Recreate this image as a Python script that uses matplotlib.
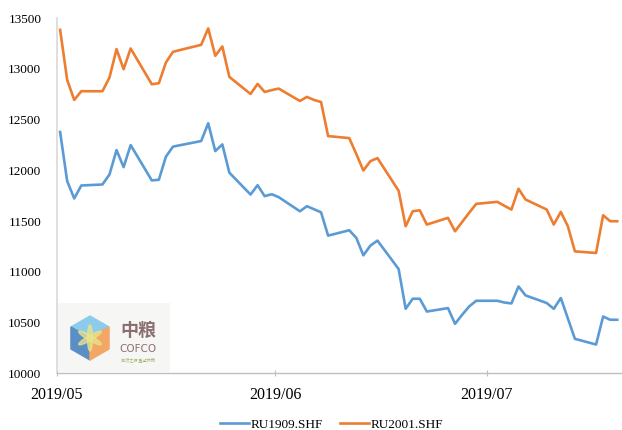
import matplotlib
matplotlib.use("Agg")
import matplotlib.pyplot as plt
import matplotlib.dates as mdates
from matplotlib.patches import Polygon, Rectangle, Ellipse
import pandas as pd

# trading dates and settlement prices
dates = [
    "2019-05-01", "2019-05-02", "2019-05-03", "2019-05-04", "2019-05-07", "2019-05-08",
    "2019-05-09", "2019-05-10", "2019-05-11", "2019-05-14", "2019-05-15", "2019-05-16",
    "2019-05-17", "2019-05-18", "2019-05-21", "2019-05-22", "2019-05-23", "2019-05-24",
    "2019-05-25", "2019-05-28", "2019-05-29", "2019-05-30", "2019-05-31", "2019-06-01",
    "2019-06-04", "2019-06-05", "2019-06-06", "2019-06-07", "2019-06-08", "2019-06-11",
    "2019-06-12", "2019-06-13", "2019-06-14", "2019-06-15", "2019-06-18", "2019-06-19",
    "2019-06-20", "2019-06-21", "2019-06-22", "2019-06-25", "2019-06-26", "2019-06-27",
    "2019-06-28", "2019-06-29", "2019-07-02", "2019-07-03", "2019-07-04", "2019-07-05",
    "2019-07-06", "2019-07-09", "2019-07-10", "2019-07-11", "2019-07-12", "2019-07-13",
    "2019-07-16", "2019-07-17", "2019-07-18", "2019-07-19",
]
ru1909 = [
    12377, 11893, 11722, 11850, 11860, 11959, 12199, 12031, 12248, 11900, 11907, 12134,
    12233, 12247, 12288, 12463, 12189, 12255, 11976, 11761, 11853, 11745, 11764, 11735,
    11596, 11646, 11616, 11586, 11356, 11409, 11334, 11162, 11258, 11307, 11027, 10635,
    10734, 10734, 10608, 10642, 10487, 10575, 10658, 10714, 10714, 10697, 10688, 10855,
    10767, 10692, 10635, 10741, 10540, 10339, 10283, 10559, 10527, 10527,
]
ru2001 = [
    13384, 12890, 12693, 12779, 12779, 12914, 13194, 12996, 13200, 12848, 12858, 13062,
    13167, 13185, 13236, 13398, 13128, 13220, 12920, 12752, 12851, 12772, 12790, 12805,
    12683, 12723, 12693, 12673, 12337, 12317, 12160, 11998, 12090, 12120, 11798, 11448,
    11596, 11606, 11465, 11531, 11399, 11490, 11581, 11669, 11689, 11650, 11613, 11818,
    11712, 11613, 11465, 11590, 11448, 11201, 11185, 11557, 11498, 11498,
]
labels = ["RU1909.SHF", "RU2001.SHF"]
colors = ["#5B9BD5", "#ED7D31"]

# points sit in the middle of each day on the date axis
x = pd.to_datetime(dates) + pd.Timedelta(hours=12)

fig = plt.figure(figsize=(6.22, 4.30), dpi=100)
ax = fig.add_axes([0.091, 0.132, 0.907, 0.826])

ax.plot(x, ru1909, color=colors[0], lw=1.9, label=labels[0])
ax.plot(x, ru2001, color=colors[1], lw=1.9, label=labels[1])

ax.set_ylim(10000, 13500)
ax.set_yticks(range(10000, 13501, 500))
ax.set_xlim(pd.Timestamp("2019-05-01"), pd.Timestamp("2019-07-20"))
ax.xaxis.set_major_locator(mdates.MonthLocator())
ax.xaxis.set_major_formatter(mdates.DateFormatter("%Y/%m"))

for s in ["top", "right"]:
    ax.spines[s].set_visible(False)
ax.spines["left"].set_color("#d9d9d9")
ax.spines["left"].set_linewidth(1.2)
ax.spines["bottom"].set_color("#bfbfbf")
ax.spines["bottom"].set_linewidth(1.0)

ax.tick_params(axis="y", length=0, pad=11, labelsize=9.5, labelfontfamily="Liberation Serif")
ax.tick_params(axis="x", direction="inout", length=4, color="#bfbfbf", pad=8,
               labelsize=11.5, labelfontfamily="Liberation Serif")

fig.legend(loc="lower center", ncol=2, frameon=False, bbox_to_anchor=(0.533, -0.03),
           prop={"family": "Liberation Serif", "size": 9.5}, handlelength=2.2,
           handletextpad=0.1, columnspacing=1.3)

# COFCO logo in the bottom-left corner of the plot
lg = fig.add_axes([58 / 622, (430 - 372) / 430, 112 / 622, 69 / 430])
lg.set_xlim(0, 112)
lg.set_ylim(0, 69)
lg.axis("off")
lg.add_patch(Rectangle((0, 0), 112, 69, color="#f6f6f4", zorder=0))
cx, cy, r = 32, 34, 22
hexpts = [(cx + r * 0.866, cy + r * 0.5), (cx, cy + r), (cx - r * 0.866, cy + r * 0.5),
          (cx - r * 0.866, cy - r * 0.5), (cx, cy - r), (cx + r * 0.866, cy - r * 0.5)]
c = (cx, cy)
lg.add_patch(Polygon([c, hexpts[0], hexpts[1], hexpts[2]], color="#8ccbea"))
lg.add_patch(Polygon([c, hexpts[2], hexpts[3], hexpts[4]], color="#5a8fc6"))
lg.add_patch(Polygon([c, hexpts[4], hexpts[5], hexpts[0]], color="#f2a766"))
for ang in (0, 120, 240):
    lg.add_patch(Ellipse((cx, cy), 5, 26, angle=ang, color="#e9e48a", alpha=0.75))
lg.text(80, 42, "中粮", ha="center", va="center", fontsize=13, color="#8a6f70",
        family=["Noto Sans CJK SC", "DejaVu Sans"], weight="bold")
lg.text(80, 23, "COFCO", ha="center", va="center", fontsize=7.5, color="#8a6f70",
        family="DejaVu Sans")
lg.text(80, 12, "自然之源 重塑你我", ha="center", va="center", fontsize=3, color="#9cb36a",
        family=["Noto Sans CJK SC", "DejaVu Sans"])

fig.savefig("out.png", dpi=100)
